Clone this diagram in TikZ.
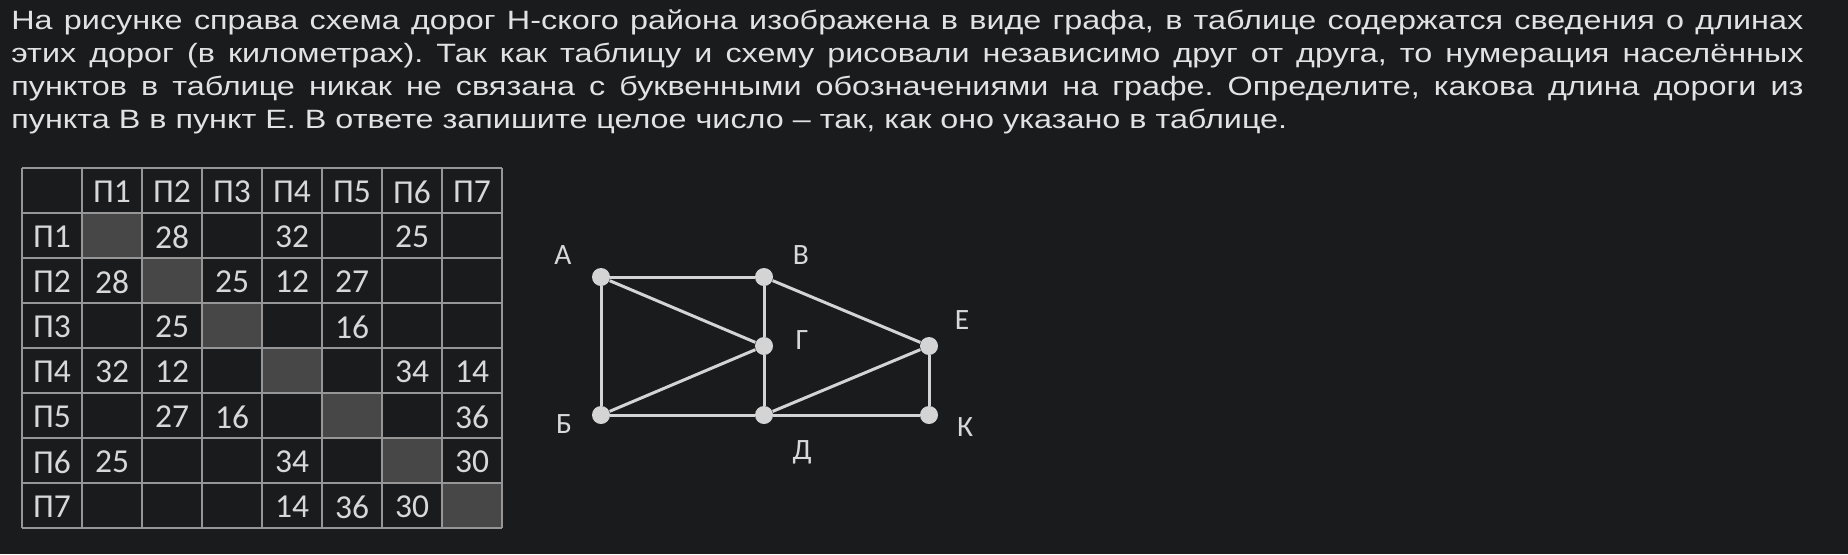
\documentclass[tikz,border=0pt]{standalone}
\usepackage{fontspec}
\setmainfont{Liberation Sans}[FakeStretch=1.22]
\newfontfamily\tabfont{Carlito}

\definecolor{bgcol}{HTML}{1A1B1D}
\definecolor{txtcol}{HTML}{E2E2E2}
\definecolor{tabtxt}{HTML}{D8D8D8}
\definecolor{tabline}{HTML}{969696}
\definecolor{diagcol}{HTML}{474747}
\definecolor{roadcol}{HTML}{D4D4D4}

\tikzset{
  cell/.style={inner sep=0pt, text=tabtxt, font=\tabfont\fontsize{16.75}{18}\selectfont},
  vertex/.style={circle, fill=roadcol, draw=none, minimum size=9pt, inner sep=0pt},
  vlabel/.style={inner sep=0pt, text=tabtxt, font=\tabfont\fontsize{14.75}{16}\selectfont},
  road/.style={draw=roadcol, line width=1.5pt},
  tline/.style={draw=tabline, line width=1pt}
}

\begin{document}
\begin{tikzpicture}[x=0.5pt,y=-0.5pt]
    \fill[bgcol] (0,0) rectangle (1848,554);
    \useasboundingbox (0,0) rectangle (1848,554);
    % task text
    \node[anchor=north west, inner sep=0pt, align=left, text=txtcol,
          font=\fontsize{13.25}{16.5}\selectfont\frenchspacing] (task) at (11,9) {%
      \makebox[896pt][s]{На рисунке справа схема дорог Н-ского района изображена в виде графа, в таблице содержатся сведения о длинах}\\
      \makebox[896pt][s]{этих дорог (в километрах). Так как таблицу и схему рисовали независимо друг от друга, то нумерация населённых}\\
      \makebox[896pt][s]{пунктов в таблице никак не связана с буквенными обозначениями на графе. Определите, какова длина дороги из}\\
      пункта В в пункт Е. В ответе запишите целое число – так, как оно указано в таблице.};
    % table
    \foreach \i in {1,...,7}
        \fill[diagcol] ({22+60*\i},{168+45*\i}) rectangle ++(60,45);
    \foreach \i in {0,...,8} {
        \draw[tline] ({22+60*\i},168) -- ({22+60*\i},528);
        \draw[tline] (22,{168+45*\i}) -- (502,{168+45*\i});
    }
    \foreach \i in {1,...,7} {
        \node[cell] (h\i) at ({52+60*\i},192) {П\i};
        \node[cell] (r\i) at (52,{192+45*\i}) {П\i};
    }
    \foreach \r/\c/\v in {1/2/28, 1/4/32, 1/6/25,
                          2/1/28, 2/3/25, 2/4/12, 2/5/27,
                          3/2/25, 3/5/16,
                          4/1/32, 4/2/12, 4/6/34, 4/7/14,
                          5/2/27, 5/3/16, 5/7/36,
                          6/1/25, 6/4/34, 6/7/30,
                          7/4/14, 7/5/36, 7/6/30}
        \node[cell] (n\r-\c) at ({52+60*\c},{192+45*\r}) {\v};
    % graph
    \node[vertex] (A) at (601,277) {};
    \node[vertex] (V) at (764,277) {};
    \node[vertex] (G) at (764,346) {};
    \node[vertex] (E) at (929,346) {};
    \node[vertex] (B) at (601,415) {};
    \node[vertex] (D) at (764,415) {};
    \node[vertex] (K) at (929,415) {};
    \node[vlabel] (lA) at (563,255) {А};
    \node[vlabel] (lV) at (801,255) {В};
    \node[vlabel] (lG) at (802,340) {Г};
    \node[vlabel] (lE) at (962,320) {Е};
    \node[vlabel] (lB) at (564,424) {Б};
    \node[vlabel] (lD) at (802,452) {Д};
    \node[vlabel] (lK) at (965,427) {К};
    \draw[road] (A) -- (V);
    \draw[road] (A) -- (B);
    \draw[road] (A) -- (G);
    \draw[road] (V) -- (G);
    \draw[road] (V) -- (E);
    \draw[road] (G) -- (B);
    \draw[road] (G) -- (D);
    \draw[road] (B) -- (D);
    \draw[road] (D) -- (K);
    \draw[road] (D) -- (E);
    \draw[road] (E) -- (K);
\end{tikzpicture}
\end{document}
